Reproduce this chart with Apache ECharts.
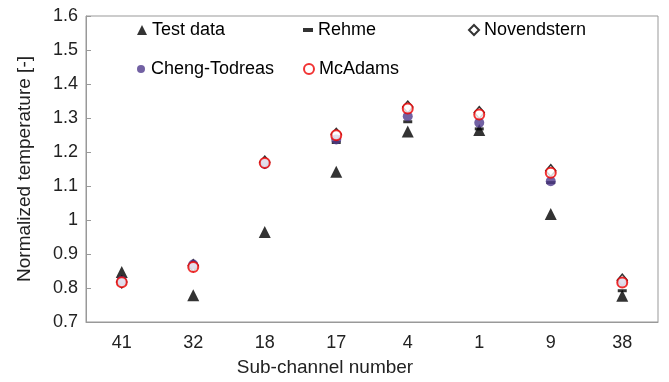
<!DOCTYPE html>
<html><head><meta charset="utf-8">
<script src="https://cdn.jsdelivr.net/npm/echarts@6/dist/echarts.min.js"></script>
<style>html,body{margin:0;padding:0;background:#fff}#c{width:669px;height:382px}</style>
</head><body><div id="c"></div>
<script>
var categories = ['41','32','18','17','4','1','9','38'];
var testData = [0.847, 0.779, 0.965, 1.142, 1.26, 1.265, 1.018, 0.777];
var rehme = [0.812, 0.86, 1.165, 1.228, 1.289, 1.268, 1.11, 0.792];
var novendstern = [0.818, 0.866, 1.17, 1.252, 1.332, 1.316, 1.145, 0.823];
var chengTodreas = [0.821, 0.869, 1.165, 1.237, 1.305, 1.286, 1.114, 0.817];
var mcAdams = [0.817, 0.862, 1.168, 1.249, 1.328, 1.31, 1.139, 0.816];

var font = 'Liberation Sans, Arial, sans-serif';
var chart = echarts.init(document.getElementById('c'));
function leg(name, left, top, w, h) {
  return {data:[name], left:left, top:top, padding:0, itemWidth:w, itemHeight:h, itemGap:4,
    textStyle:{fontFamily:font, fontSize:18, color:'#000'}, selectedMode:false};
}
chart.setOption({
  animation:false,
  grid:{left:86, right:11, top:16, bottom:59, show:true, borderColor:'#999', borderWidth:1},
  legend:[leg('Test data',137,21,10,10), leg('Rehme',303,21,10,4), leg('Novendstern',468,21,10,10),
          leg('Cheng-Todreas',137,60,10,8), leg('McAdams',303,60,10,10)],
  xAxis:{type:'category', data:categories, boundaryGap:true,
    name:'Sub-channel number', nameLocation:'middle', nameGap:36,
    nameTextStyle:{fontFamily:font, fontSize:19, color:'#222', padding:[0,94,0,0]},
    axisLine:{lineStyle:{color:'#999'}},
    axisTick:{inside:true, length:5, lineStyle:{color:'#999'}},
    axisLabel:{fontFamily:font, fontSize:18, color:'#222', margin:12}},
  yAxis:{type:'value', min:0.7, max:1.6, interval:0.1,
    name:'Normalized temperature [-]', nameLocation:'middle', nameGap:52,
    nameTextStyle:{fontFamily:font, fontSize:19, color:'#222'},
    splitLine:{show:false},
    axisLine:{show:true, lineStyle:{color:'#999'}},
    axisTick:{show:true, inside:true, length:5, lineStyle:{color:'#999'}},
    axisLabel:{fontFamily:font, fontSize:18, color:'#222', margin:8,
      formatter:function(v){return String(Math.round(v*10)/10);}}},
  series:[
    {name:'Test data', type:'scatter', data:testData, symbol:'triangle', symbolSize:12,
      itemStyle:{color:'#000'}, z:2},
    {name:'Rehme', type:'scatter', data:rehme, symbol:'rect', symbolSize:[9,3],
      itemStyle:{color:'#000'}, z:3},
    {name:'Novendstern', type:'scatter', data:novendstern, symbol:'diamond', symbolSize:[10,12],
      itemStyle:{color:'#fff', borderColor:'#000', borderWidth:1.5}, z:4},
    {name:'Cheng-Todreas', type:'scatter', data:chengTodreas, symbol:'circle', symbolSize:10,
      itemStyle:{color:'#4f3a8c'}, z:5},
    {name:'McAdams', type:'scatter', data:mcAdams, symbol:'emptyCircle', symbolSize:10,
      itemStyle:{color:'#e00', borderColor:'#e00', borderWidth:2}, z:6}
  ]
});
</script></body></html>
